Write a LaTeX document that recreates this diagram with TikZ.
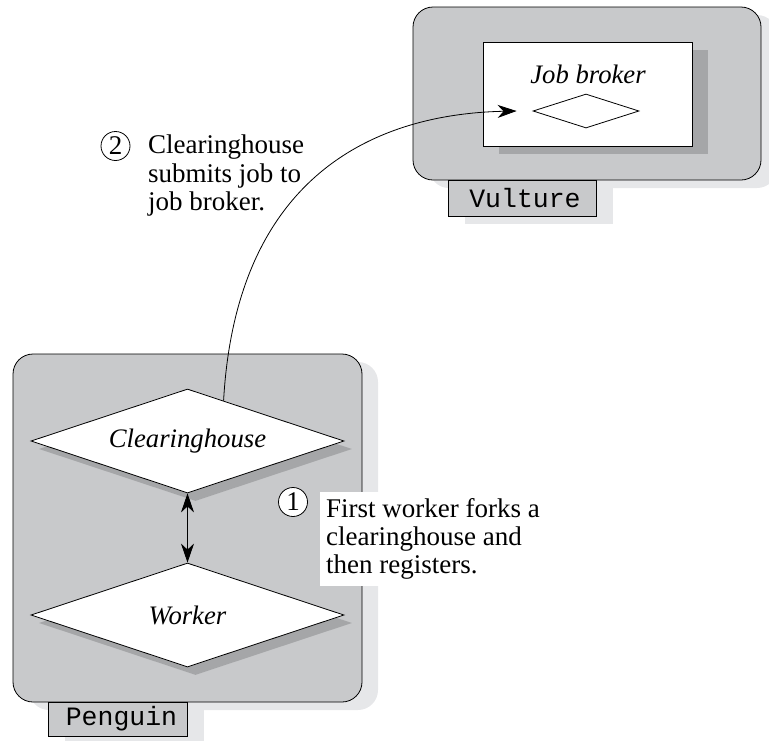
\documentclass[tikz,border=0pt]{standalone}
\usepackage{fontspec}
\setmainfont{Liberation Serif}
\setmonofont{Liberation Mono}
\usetikzlibrary{shapes.geometric,arrows.meta,shadows,calc}
\definecolor{boxgray}{RGB}{200,201,203}
\definecolor{lightshadow}{RGB}{230,231,233}
\definecolor{darkshadow}{RGB}{165,166,168}
\tikzset{
  host/.style={rectangle, rounded corners=20pt, draw, line width=0.8pt, fill=boxgray, inner sep=0,
    drop shadow={shadow xshift=16pt, shadow yshift=-8pt, fill=lightshadow, opacity=1}},
  hostlbl/.style={rectangle, draw, line width=0.8pt, fill=boxgray, inner sep=0,
    font=\fontsize{26.5}{30}\selectfont\ttfamily,
    drop shadow={shadow xshift=17pt, shadow yshift=-8pt, fill=lightshadow, opacity=1}},
  proc/.style={diamond, aspect=3, draw, fill=white, line width=0.8pt, inner sep=0,
    font=\fontsize{26.7}{30}\selectfont\itshape},
  procshadow/.style={drop shadow={shadow xshift=8pt, shadow yshift=-8pt, fill=darkshadow, opacity=1}},
  broker/.style={rectangle, draw, fill=white, line width=0.8pt, inner sep=0,
    drop shadow={shadow xshift=16pt, shadow yshift=-8pt, fill=darkshadow, opacity=1}},
  stepnum/.style={circle, draw, line width=0.8pt, fill=white, inner sep=0, minimum size=29pt,
    font=\fontsize{27}{28}\selectfont},
  note/.style={align=left, inner sep=0, anchor=north west, font=\fontsize{27}{28.3}\selectfont},
  conn/.style={line width=0.8pt, -{Stealth[length=19pt,width=13pt,inset=6pt]}},
  dconn/.style={line width=0.8pt, {Stealth[length=19pt,width=13pt,inset=6pt]}-{Stealth[length=19pt,width=13pt,inset=6pt]}},
}
\begin{document}
\begin{tikzpicture}[x=1pt,y=-1pt]
\useasboundingbox (0,0) rectangle (769,740);
% Vulture host
\node[host, minimum width=348pt, minimum height=173pt] (vulture) at (587,93.5) {};
\node[hostlbl, minimum width=148pt, minimum height=36pt] (vulturelbl) at (522,198) {\hspace*{6pt}Vulture};
\node[broker, minimum width=209pt, minimum height=104pt] (jbrect) at (587.5,94) {};
\node[font=\fontsize{26.7}{30}\selectfont\itshape, inner sep=0] (jbtext) at (588,74) {Job broker};
\node[diamond, draw, fill=white, line width=0.8pt, inner sep=0, minimum width=106pt, minimum height=34pt] (jd) at (586,111) {};
% Penguin host
\node[host, minimum width=349pt, minimum height=348pt] (penguin) at (187.5,528) {};
\node[hostlbl, minimum width=139pt, minimum height=34pt] (penguinlbl) at (117.5,719) {\hspace*{8pt}Penguin};
\node[proc, procshadow, minimum width=313pt, minimum height=104pt] (ch) at (187.5,441) {Clearinghouse};
\node[proc, procshadow, minimum width=313pt, minimum height=104pt] (wk) at (187.5,615) {Worker};
% connectors
\draw[dconn] (ch.south) -- (wk.north);
\coordinate (chout) at ($(ch.north)!0.23!(ch.east)$);
\coordinate (jbin) at ($(jd.west)+(-16,0)$);
\draw[conn] (chout) .. controls (236,180) and (370,114) .. (jbin);
% step notes
\node[note, fill=white, inner sep=6pt] (note1) at (320,492) {First worker forks a\\clearinghouse and\\then registers.};
\node[stepnum] (num1) at (293,502) {1};
\node[stepnum] (num2) at (115.5,146) {2};
\node[note] (note2) at (148,135) {Clearinghouse\\submits job to\\job broker.};
\end{tikzpicture}
\end{document}
